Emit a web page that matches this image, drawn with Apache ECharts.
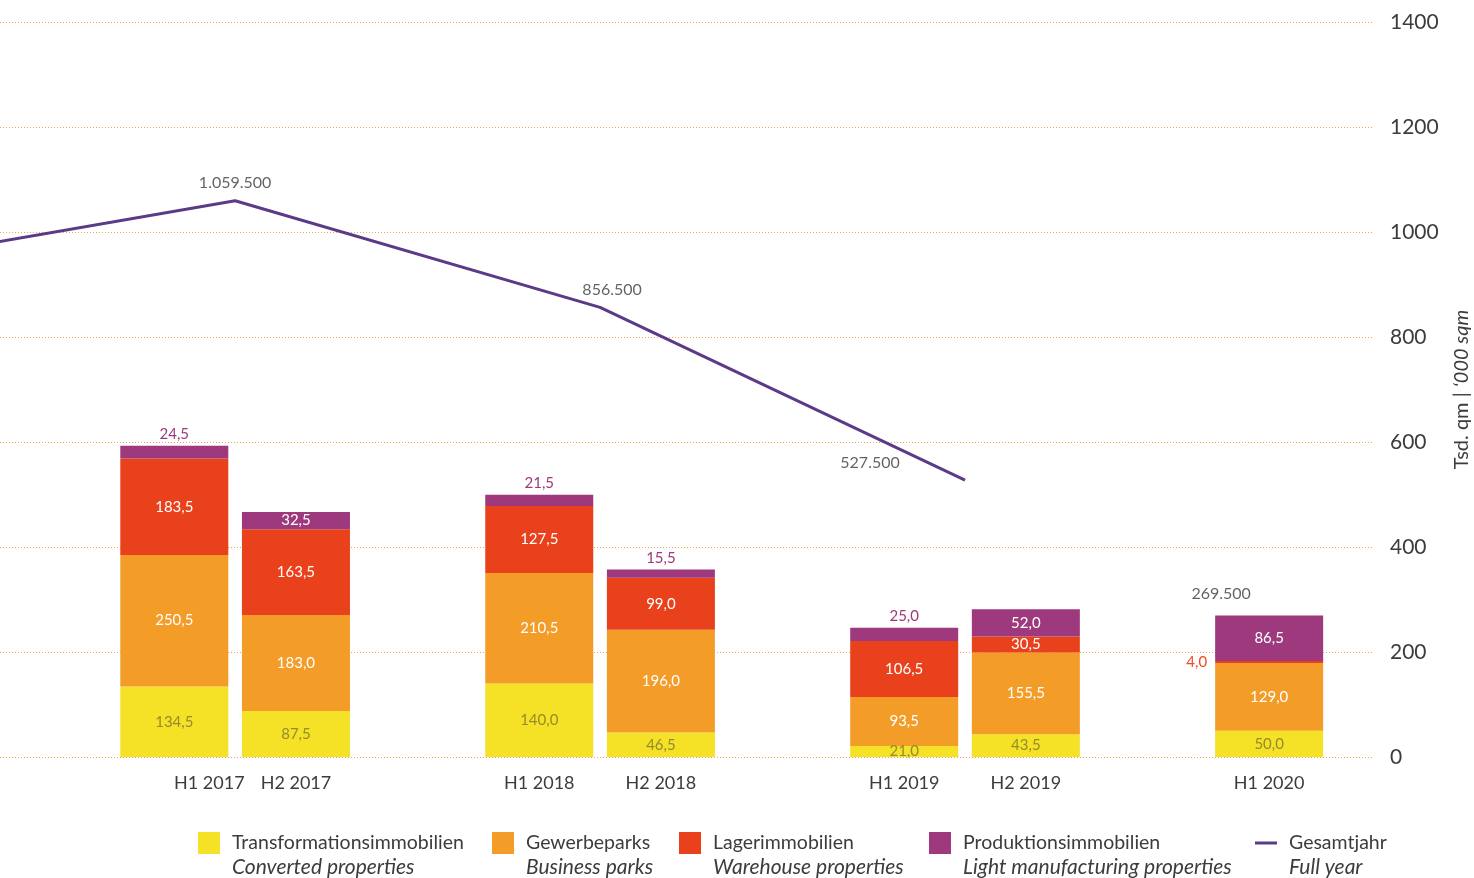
<!DOCTYPE html>
<html>
<head>
<meta charset="utf-8">
<title>Flächenumsatz Unternehmensimmobilien</title>
<script src="https://cdn.jsdelivr.net/npm/echarts@6/dist/echarts.min.js"></script>
<style>
  html, body { margin: 0; padding: 0; background: #ffffff; }
  #chart { width: 1474px; height: 878px; }
</style>
</head>
<body>
<div id="chart"></div>
<script>
// ---- Data (Tsd. qm) ----
const halfYears = ['H1 2017', 'H2 2017', 'H1 2018', 'H2 2018', 'H1 2019', 'H2 2019', 'H1 2020'];

const converted     = [134.5, 87.5, 140.0, 46.5, 21.0, 43.5, 50.0];   // Transformationsimmobilien
const businessParks = [250.5, 183.0, 210.5, 196.0, 93.5, 155.5, 129.0]; // Gewerbeparks
const warehouse     = [183.5, 163.5, 127.5, 99.0, 106.5, 30.5, 4.0];    // Lagerimmobilien
const manufacturing = [24.5, 32.5, 21.5, 15.5, 25.0, 52.0, 86.5];       // Produktionsimmobilien

const fullYears      = ['2016', '2017', '2018', '2019'];
const fullYearTotals = [939, 1059.5, 856.5, 527.5];                     // Gesamtjahr

const segmentNames   = ['Transformationsimmobilien', 'Gewerbeparks', 'Lagerimmobilien', 'Produktionsimmobilien'];
const segmentNamesEn = ['Converted properties', 'Business parks', 'Warehouse properties', 'Light manufacturing properties'];
const lineName   = 'Gesamtjahr';
const lineNameEn = 'Full year';
const axisTitleDe = 'Tsd. qm | ';
const axisTitleEn = '\u2018000 sqm';

// ---- Styling ----
const FONT = 'Lato, "Open Sans", sans-serif';
const TEXT = '#3c3c3c';
const COLORS = ['#f5e125', '#f49c28', '#e8411c', '#9d397c'];
const LINE_COLOR = '#5b3a87';
const GRID_COLOR = '#f2a24a';
const YELLOW_LABEL = '#948c2e';

// ---- Layout: half-year slots, three per year (H1, H2, gap) ----
const SLOT = 121.65;           // px per slot
const FIRST_CENTER = 174.3;    // px of first bar centre
const PLOT_RIGHT = 1374;       // px where the grid ends
const TOP = 22, BOTTOM = 121;
const SLOT_COUNT = 10;

function slotOfHalf(label) {
  const year = parseInt(label.slice(3), 10);
  const half = label.charAt(1) === '2' ? 1 : 0;
  return (year - 2017) * 3 + half;
}
function slotOfYear(year) {
  return (parseInt(year, 10) - 2017) * 3 + 0.5;
}

const slotCategories = [];
for (let i = 0; i < SLOT_COUNT; i++) slotCategories.push('slot' + i);
const slotLabel = {};
halfYears.forEach(h => { slotLabel['slot' + slotOfHalf(h)] = h; });

const fmtDec = v => v.toFixed(1).replace('.', ',');
const fmtThousands = v => String(Math.round(v * 1000)).replace(/\B(?=(\d{3})+(?!\d))/g, '.');

const series = [];
const segments = [converted, businessParks, warehouse, manufacturing];

segments.forEach((vals, si) => {
  series.push({
    name: segmentNames[si],
    type: 'bar',
    stack: 'total',
    xAxisIndex: 1,
    yAxisIndex: 1,
    barWidth: 108,
    itemStyle: { color: COLORS[si] },
    emphasis: { disabled: true },
    label: {
      show: true,
      position: 'inside',
      fontFamily: FONT,
      fontSize: 15,
      color: si === 0 ? YELLOW_LABEL : '#ffffff',
      formatter: p => fmtDec(p.value[1])
    },
    data: vals.map((v, k) => {
      const item = { value: [slotOfHalf(halfYears[k]), v] };
      if (si === 3 && v < 30) {
        item.label = { position: 'top', distance: 4, color: COLORS[3] };
      } else if (si === 2 && v < 10) {
        item.label = { position: 'left', distance: 8, color: '#ee4a24' };
      }
      return item;
    })
  });
});

// Full-year line
const fullYearPoints = fullYears.map((y, i) => [slotOfYear(y), fullYearTotals[i]]);
series.push({
  name: lineName,
  type: 'line',
  xAxisIndex: 0,
  yAxisIndex: 0,
  symbol: 'none',
  lineStyle: { color: LINE_COLOR, width: 3 },
  itemStyle: { color: LINE_COLOR },
  emphasis: { disabled: true },
  data: fullYearPoints
});

// Value labels of the full-year line
const lineLabelOffsets = [[0, 0], [0, 0], [12, 0], [-95, 0]];
series.push({
  name: lineName + ' Werte',
  type: 'scatter',
  xAxisIndex: 0,
  yAxisIndex: 0,
  symbolSize: 1,
  itemStyle: { color: 'rgba(0,0,0,0)' },
  emphasis: { disabled: true },
  label: {
    show: true,
    position: 'top',
    distance: 9,
    fontFamily: FONT,
    fontSize: 16,
    color: TEXT,
    formatter: p => fmtThousands(p.value[1])
  },
  data: fullYearPoints.map((pt, i) => ({
    value: pt,
    label: i === 0 ? { show: false } : { offset: lineLabelOffsets[i] }
  }))
});

// Total of the latest half-year bar
const lastIdx = halfYears.length - 1;
const lastTotal = segments.reduce((s, arr) => s + arr[lastIdx], 0);
series.push({
  name: 'Summe ' + halfYears[lastIdx],
  type: 'scatter',
  xAxisIndex: 1,
  yAxisIndex: 1,
  symbolSize: 1,
  itemStyle: { color: 'rgba(0,0,0,0)' },
  emphasis: { disabled: true },
  label: {
    show: true,
    position: 'top',
    distance: 13,
    offset: [-48, 0],
    fontFamily: FONT,
    fontSize: 16,
    color: TEXT,
    formatter: p => fmtThousands(p.value[1])
  },
  data: [[slotOfHalf(halfYears[lastIdx]), lastTotal]]
});

// Legend: one block per item, two lines (German / English)
const legendNames = segmentNames.concat([lineName]);
const legendEn = segmentNamesEn.concat([lineNameEn]);
const legendLefts = [198, 492, 679, 929, 1255];
const LINE_ICON = 'path://M0,0 M22,22 M0,9.5 L22,9.5 L22,12.5 L0,12.5 Z';
const legends = legendNames.map((n, i) => ({
  data: [{ name: n, icon: i < 4 ? 'rect' : LINE_ICON }],
  left: legendLefts[i],
  top: 832,
  padding: 0,
  itemWidth: 22,
  itemHeight: 22,
  selectedMode: false,
  lineStyle: { width: 4 },
  formatter: name => '{a|' + name + '}\n{b|' + legendEn[i] + '}',
  textStyle: {
    padding: [24, 0, 0, 7],
    rich: {
      a: { fontFamily: FONT, fontSize: 19.5, lineHeight: 24, color: TEXT },
      b: { fontFamily: FONT, fontSize: 21, lineHeight: 24, color: TEXT, fontStyle: 'italic' }
    }
  }
}));

const xMin = -FIRST_CENTER / SLOT;
const xMax = (PLOT_RIGHT - FIRST_CENTER) / SLOT;
const barGridLeft = FIRST_CENTER - SLOT / 2;

const option = {
  backgroundColor: '#ffffff',
  animation: false,
  textStyle: { fontFamily: FONT },
  legend: legends,
  grid: [
    { left: 0, width: PLOT_RIGHT, top: TOP, bottom: BOTTOM, containLabel: false, outerBoundsMode: 'none' },
    { left: barGridLeft, width: SLOT * SLOT_COUNT, top: TOP, bottom: BOTTOM, containLabel: false, outerBoundsMode: 'none' }
  ],
  xAxis: [
    { type: 'value', gridIndex: 0, min: xMin, max: xMax, show: false },
    {
      type: 'category',
      gridIndex: 1,
      data: slotCategories,
      axisLine: { show: false },
      axisTick: { show: false },
      splitLine: { show: false },
      axisLabel: {
        interval: 0,
        margin: 17,
        fontFamily: FONT,
        fontSize: 18,
        color: TEXT,
        formatter: v => {
          const t = slotLabel[v] || '';
          if (!t) return '';
          return t === halfYears[0] ? '{shift|' + t + '}' : t;
        },
        rich: {
          shift: { fontFamily: FONT, fontSize: 18, color: TEXT, padding: [0, 0, 0, 70] }
        }
      }
    }
  ],
  yAxis: [
    {
      type: 'value',
      gridIndex: 0,
      position: 'right',
      min: 0,
      max: 1400,
      interval: 200,
      axisLine: { show: false },
      axisTick: { show: false },
      splitLine: { show: true, lineStyle: { color: GRID_COLOR, width: 1, type: [1, 2] } },
      axisLabel: { margin: 16, fontFamily: FONT, fontSize: 21, color: TEXT, formatter: v => String(v) },
      name: '{a|' + axisTitleDe + '}{b|' + axisTitleEn + '}',
      nameLocation: 'middle',
      nameRotate: 90,
      nameGap: 78,
      nameTextStyle: {
        rich: {
          a: { fontFamily: FONT, fontSize: 20, color: TEXT },
          b: { fontFamily: FONT, fontSize: 20, color: TEXT, fontStyle: 'italic' }
        }
      }
    },
    { type: 'value', gridIndex: 1, min: 0, max: 1400, show: false, splitLine: { show: false } }
  ],
  series: series
};

const chart = echarts.init(document.getElementById('chart'), null, { renderer: 'canvas' });
chart.setOption(option);
</script>
</body>
</html>
